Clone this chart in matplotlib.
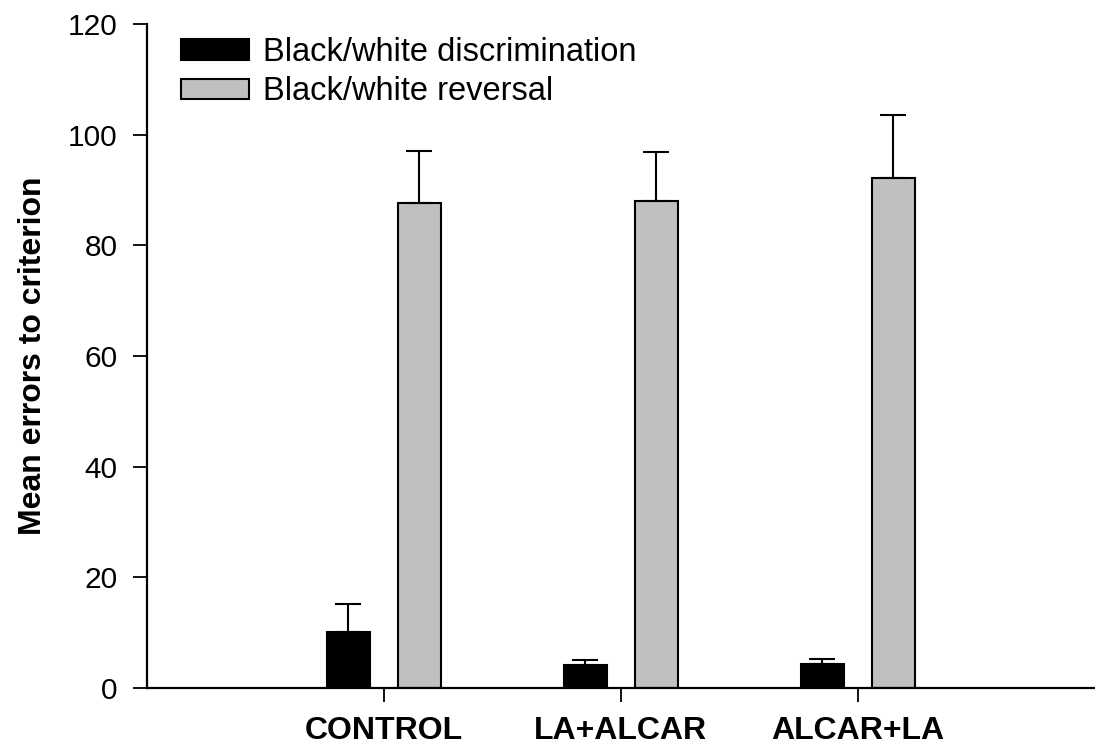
import numpy as np
import matplotlib.pyplot as plt

plt.rcParams['font.family'] = ['Liberation Sans', 'DejaVu Sans']

groups = ['CONTROL', 'LA+ALCAR', 'ALCAR+LA']
discrimination = [10.0, 4.2, 4.3]
discrimination_err = [5.1, 0.9, 0.9]
reversal = [87.6, 88.0, 92.2]
reversal_err = [9.5, 8.8, 11.4]

x = np.arange(1, len(groups) + 1)
width = 0.18
offset = 0.15

fig = plt.figure(figsize=(10.95, 7.5), dpi=100)
ax = fig.add_axes([0.134, 0.083, 0.866, 0.885])

err_kw = dict(ecolor='black', elinewidth=1.5, capsize=9.5, capthick=1.5)
ax.bar(x - offset, discrimination, width, color='black', edgecolor='black',
       linewidth=1.5, yerr=[np.zeros(3), discrimination_err], error_kw=err_kw,
       label='Black/white discrimination')
ax.bar(x + offset, reversal, width, color='#c0c0c0', edgecolor='black',
       linewidth=1.5, yerr=[np.zeros(3), reversal_err], error_kw=err_kw,
       label='Black/white reversal')

ax.set_xlim(0, 4)
ax.set_ylim(0, 120)
ax.set_yticks(np.arange(0, 121, 20))
ax.set_xticks(x)
ax.set_xticklabels(groups, fontsize=23, fontweight='bold')
ax.tick_params(axis='y', labelsize=21.5, length=10, width=1.3, pad=11)
ax.tick_params(axis='x', length=10, width=1.3, pad=10)
for s in ['top', 'right']:
    ax.spines[s].set_visible(False)
for s in ['left', 'bottom']:
    ax.spines[s].set_linewidth(1.6)

ax.set_ylabel('Mean errors to criterion', fontsize=23, fontweight='bold', labelpad=14)

ax.legend(loc='upper left', bbox_to_anchor=(0.036, 0.98), frameon=False,
          fontsize=23.5, handlelength=2.1, handleheight=0.6, handletextpad=0.43,
          labelspacing=0.25, borderpad=0, borderaxespad=0)

fig.savefig('out.png', dpi=100)
